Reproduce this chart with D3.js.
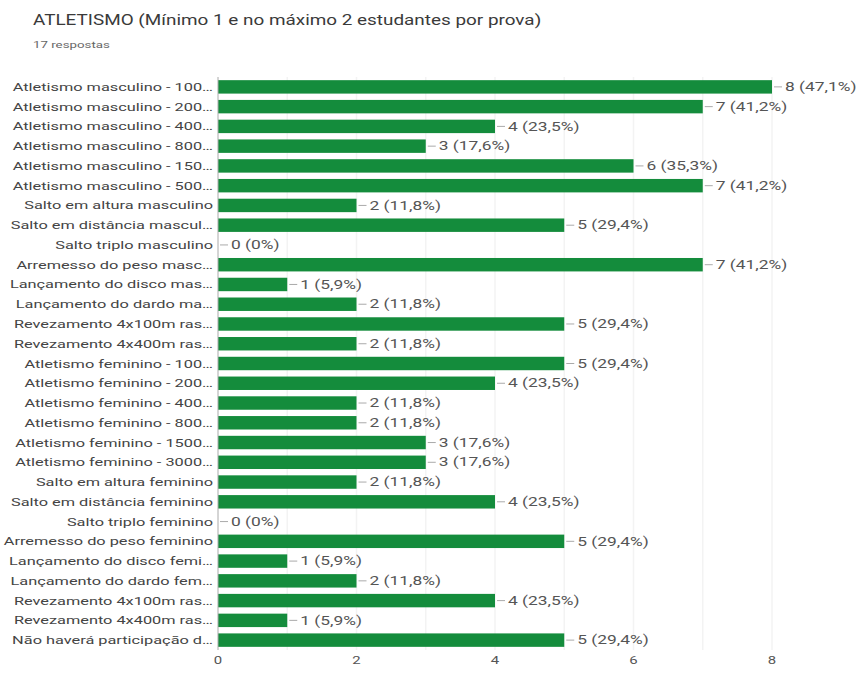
<!DOCTYPE html>
<html><head><meta charset="utf-8">
<script src="https://cdn.jsdelivr.net/npm/d3@7"></script>
<style>body{margin:0;background:#fff;} text{font-family:Roboto,Arial,sans-serif;}</style>
</head><body>
<svg id="c" width="860" height="677"></svg>
<script>
const title = "ATLETISMO  (Mínimo 1 e no máximo 2 estudantes por prova)";
const subtitle = "17 respostas";
const categories = [
 "Atletismo masculino - 100…","Atletismo masculino - 200…","Atletismo masculino - 400…","Atletismo masculino - 800…",
 "Atletismo masculino - 150…","Atletismo masculino - 500…","Salto em altura masculino","Salto em distância mascul…",
 "Salto triplo masculino","Arremesso do peso masc…","Lançamento do disco mas…","Lançamento do dardo ma…",
 "Revezamento 4x100m ras…","Revezamento 4x400m ras…","Atletismo feminino - 100…","Atletismo feminino - 200…",
 "Atletismo feminino - 400…","Atletismo feminino - 800…","Atletismo feminino - 1500…","Atletismo feminino - 3000…",
 "Salto em altura feminino","Salto em distância feminino","Salto triplo feminino","Arremesso do peso feminino",
 "Lançamento do disco femi…","Lançamento do dardo fem…","Revezamento 4x100m ras…","Revezamento 4x400m ras…",
 "Não haverá participação d…"];
const counts = [8,7,4,3,6,7,2,5,0,7,1,2,5,2,5,4,2,2,3,3,2,4,0,5,1,2,4,1,5];
const percents = ["47,1%","41,2%","23,5%","17,6%","35,3%","41,2%","11,8%","29,4%","0%","41,2%","5,9%","11,8%",
 "29,4%","11,8%","29,4%","23,5%","11,8%","11,8%","17,6%","17,6%","11,8%","23,5%","0%","29,4%","5,9%","11,8%",
 "23,5%","5,9%","29,4%"];
const xTicks = [0,2,4,6,8];

(function(){
const svg = d3.select("#c");
const pl = 218, pr = 772, pt = 77, pb = 650;
const x = d3.scaleLinear().domain([0,8]).range([pl,pr]);
const y = d3.scaleBand().domain(categories.map((d,i)=>i)).range([pt,pb]).paddingInner(0.32).paddingOuter(0.16);
const tf = (tx,ty,s) => `translate(${tx},${ty}) scale(${s},1)`;

svg.append("text").attr("transform",tf(33,25,1.35)).attr("font-size",14).attr("fill","#3a3a3a").text(title);
svg.append("text").attr("transform",tf(33,48,1.4)).attr("font-size",9.5).attr("fill","#666").text(subtitle);

svg.append("g").selectAll("line").data(d3.range(1,9)).join("line")
  .attr("x1",d=>x(d)).attr("x2",d=>x(d)).attr("y1",pt).attr("y2",pb)
  .attr("stroke","#f3f3f3").attr("stroke-width",1.5);

svg.append("g").selectAll("rect").data(counts).join("rect")
  .attr("x",x(0)).attr("y",(d,i)=>y(i)).attr("width",d=>x(d)-x(0)).attr("height",y.bandwidth())
  .attr("fill","#148c3c");

svg.append("line").attr("x1",x(0)).attr("x2",x(0)).attr("y1",pt).attr("y2",pb).attr("stroke","#aaa").attr("stroke-width",1);

svg.append("g").selectAll("text").data(categories).join("text")
  .attr("transform",(d,i)=>tf(213, y(i)+y.bandwidth()/2, 1.42)).attr("dy","0.35em")
  .attr("text-anchor","end").attr("font-size",11.5).attr("fill","#444").text(d=>d);

const vl = svg.append("g");
vl.selectAll("line").data(counts).join("line")
  .attr("x1",d=>x(d)+2).attr("x2",d=>x(d)+10).attr("y1",(d,i)=>y(i)+y.bandwidth()/2).attr("y2",(d,i)=>y(i)+y.bandwidth()/2)
  .attr("stroke","#aaa").attr("stroke-width",1);
vl.selectAll("text").data(counts).join("text")
  .attr("transform",(d,i)=>tf(x(d)+13, y(i)+y.bandwidth()/2, 1.45)).attr("dy","0.35em")
  .attr("font-size",12).attr("fill","#555").text((d,i)=>`${d} (${percents[i]})`);

svg.append("g").selectAll("text").data(xTicks).join("text")
  .attr("transform",d=>tf(x(d),664,1.3)).attr("text-anchor","middle").attr("font-size",11.5).attr("fill","#555").text(d=>d);
})();
</script>
</body></html>
